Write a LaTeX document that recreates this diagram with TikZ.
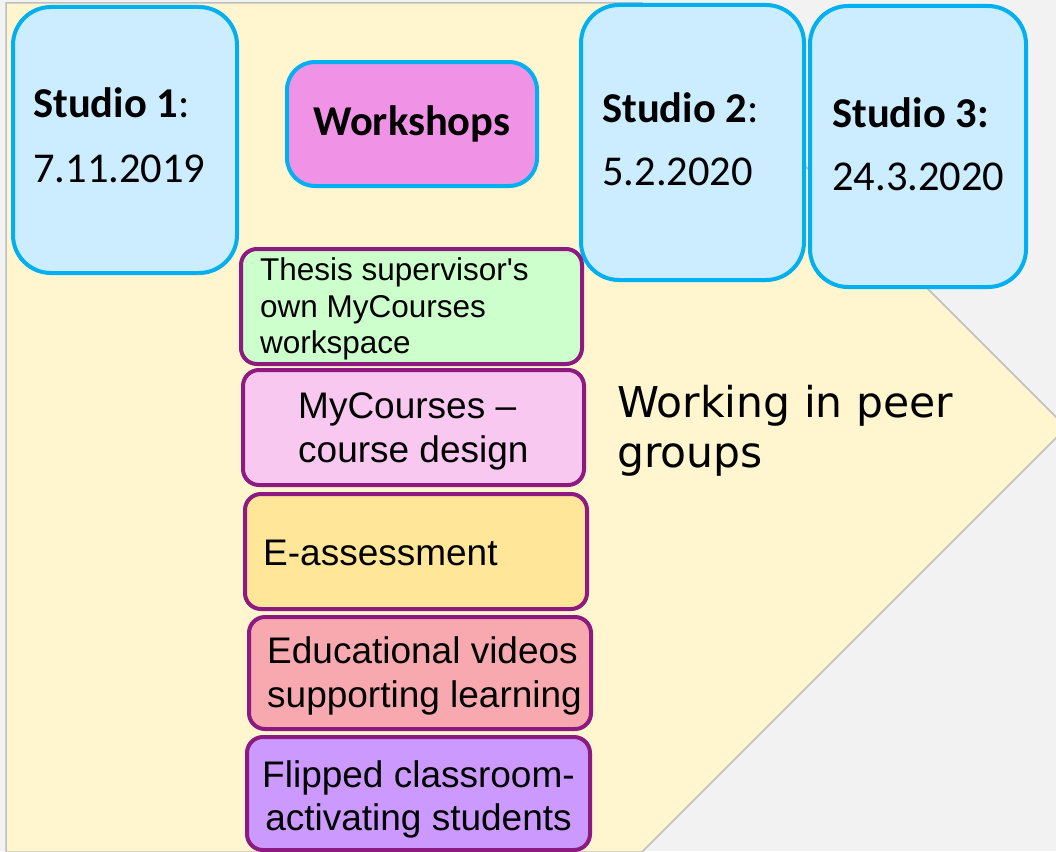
\documentclass[tikz,border=0pt]{standalone}
\usepackage{fontspec}
\setmainfont{Liberation Sans}
\newfontfamily\carlito{Carlito}
\newfontfamily\dejavu{DejaVu Sans}
\definecolor{bggray}{HTML}{F2F2F2}
\definecolor{arrowfill}{HTML}{FFF5CE}
\definecolor{arrowline}{HTML}{BFBFBF}
\definecolor{stfill}{HTML}{CCECFF}
\definecolor{stline}{HTML}{00B0F0}
\definecolor{wsfill}{HTML}{F093E6}
\definecolor{purpline}{HTML}{8C1A80}
\definecolor{greenfill}{HTML}{CCFFCC}
\definecolor{pinkfill}{HTML}{F8C8F0}
\definecolor{yellowfill}{HTML}{FFE699}
\definecolor{salmonfill}{HTML}{F8A9B0}
\definecolor{violetfill}{HTML}{CC99FF}
\tikzset{
  studiobox/.style={draw=stline, fill=stfill, line width=4pt, rounded corners=38pt, inner sep=0pt},
  wsbox/.style={draw=stline, fill=wsfill, line width=4pt, rounded corners=28pt, inner sep=0pt},
  topicbox/.style={draw=purpline, line width=4pt, rounded corners=16pt, inner sep=0pt},
  txt/.style={inner sep=0pt, anchor=base west, text=black},
  stfont/.style={font=\carlito\fontsize{42.5}{50}\selectfont},
  bigfont/.style={font=\fontsize{37}{44}\selectfont},
  smallfont/.style={font=\fontsize{31.5}{37}\selectfont},
}
\begin{document}
\begin{tikzpicture}[x=1pt,y=-1pt]
\useasboundingbox (0,0) rectangle (1056,851);
\fill[bggray] (0,0) rectangle (1056,851);
\begin{scope}
\clip (0,0) rectangle (1056,851);
\draw[fill=arrowfill, draw=arrowline, line width=1.5pt] (6,3) -- (642,3) -- (1066.5,427.5) -- (642,852) -- (6,852) -- cycle;

% studio boxes
\node[studiobox, minimum width=224pt, minimum height=266pt] (s1) at (125,140) {};
\node[studiobox, minimum width=223pt, minimum height=275pt] (s2) at (692.5,142.5) {};
\node[studiobox, minimum width=216pt, minimum height=281pt] (s3) at (918,146.5) {};
\node[wsbox, minimum width=250pt, minimum height=124pt] (ws) at (412,124) {};

% topic boxes
\node[topicbox, fill=greenfill, minimum width=341pt, minimum height=115pt] (b1) at (411.5,306.5) {};
\node[topicbox, fill=pinkfill, minimum width=341pt, minimum height=115pt] (b2) at (413.5,427.5) {};
\node[topicbox, fill=yellowfill, minimum width=342pt, minimum height=115pt] (b3) at (416,551.5) {};
\node[topicbox, fill=salmonfill, minimum width=342pt, minimum height=112pt] (b4) at (420,673) {};
\node[topicbox, fill=violetfill, minimum width=343pt, minimum height=113pt] (b5) at (418.5,793.5) {};

% studio texts
\node[txt, stfont] (s1a) at (33,117) {\textbf{Studio 1}:};
\node[txt, stfont] (s1b) at (33,182) {7.11.2019};
\node[txt, stfont] (s2a) at (602,122) {\textbf{Studio 2}:};
\node[txt, stfont] (s2b) at (602,185) {5.2.2020};
\node[txt, stfont] (s3a) at (832,127) {\textbf{Studio 3:}};
\node[txt, stfont] (s3b) at (832,190) {24.3.2020};
\node[txt, stfont] (wst) at (313,135) {\textbf{Workshops}};

% peer groups
\node[txt, font=\dejavu\fontsize{42.5}{50}\selectfont] (pg1) at (617,417) {Working in peer};
\node[txt, font=\dejavu\fontsize{42.5}{50}\selectfont] (pg2) at (617,467) {groups};

% topic texts
\node[txt, smallfont] (b1a) at (260,280) {Thesis supervisor\textquotesingle s};
\node[txt, smallfont] (b1b) at (260,317) {own MyCourses};
\node[txt, smallfont] (b1c) at (260,353) {workspace};
\node[txt, bigfont] (b2a) at (298,418) {MyCourses --};
\node[txt, bigfont] (b2b) at (298,462) {course design};
\node[txt, bigfont] (b3a) at (263,565) {E-assessment};
\node[txt, bigfont] (b4a) at (267,663) {Educational videos};
\node[txt, bigfont] (b4b) at (267,707) {supporting learning};
\node[inner sep=0pt, anchor=base, bigfont] (b5a) at (418.5,787) {Flipped classroom-};
\node[inner sep=0pt, anchor=base, bigfont] (b5b) at (418.5,830) {activating students};
\end{scope}
\end{tikzpicture}
\end{document}
